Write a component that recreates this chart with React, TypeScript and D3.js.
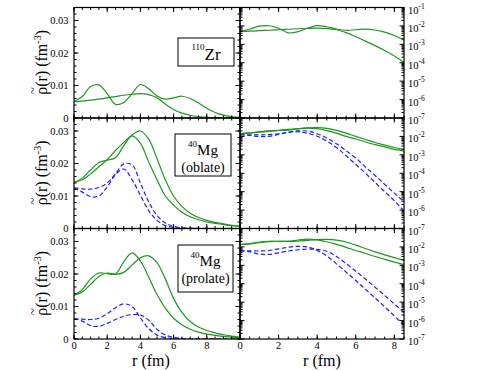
import React from 'react'
import * as d3 from 'd3'

// radial grid (fm), shared by every curve
const R = [0, 0.5, 1, 1.5, 2, 2.5, 3, 3.5, 4, 4.5, 5, 5.5, 6, 6.5, 7, 7.5, 8, 8.5, 9, 9.5, 10]

// 110Zr
const zrA = [0.0050, 0.0066, 0.0097, 0.0102, 0.0075, 0.0042, 0.0048, 0.0075, 0.0103, 0.0090, 0.0068, 0.0058, 0.0062, 0.0067, 0.0060, 0.0046, 0.0030, 0.0017, 0.0009, 0.00045, 0.0002]
const zrB = [0.0050, 0.0052, 0.0055, 0.0058, 0.0062, 0.0066, 0.0070, 0.0073, 0.0075, 0.0072, 0.0062, 0.0043, 0.0026, 0.0015, 0.00085, 0.00046, 0.00023, 0.000105, 0.00005, 0.000023, 0.00001]

// 40Mg oblate
const obGreenA = [0.0142, 0.0155, 0.0180, 0.0203, 0.0210, 0.0218, 0.0255, 0.0285, 0.0262, 0.0205, 0.0150, 0.0100, 0.0072, 0.0050, 0.0036, 0.0027, 0.0020, 0.0016, 0.0012, 0.0009, 0.0007]
const obGreenB = [0.0142, 0.0150, 0.0168, 0.0190, 0.0212, 0.0240, 0.0265, 0.0288, 0.0300, 0.0275, 0.0215, 0.0150, 0.0100, 0.0068, 0.0047, 0.0034, 0.0025, 0.0019, 0.0014, 0.0010, 0.0007]
const obBlueA = [0.0125, 0.0122, 0.0121, 0.0126, 0.0140, 0.0168, 0.0199, 0.0196, 0.0140, 0.0082, 0.0040, 0.0017, 0.00066, 0.00022, 0.000076, 0.000025, 0.0000083, 0.0000028, 0.0000009, 0.0000003, 0.0000001]
const obBlueB = [0.0125, 0.0112, 0.0098, 0.0100, 0.0128, 0.0166, 0.0183, 0.0150, 0.0102, 0.0055, 0.0025, 0.00089, 0.00030, 0.00010, 0.000032, 0.000010, 0.0000032, 0.00000089, 0.00000025, 0.00000008, 0.000000025]

// 40Mg prolate
const prGreenA = [0.0135, 0.0152, 0.0185, 0.0203, 0.0201, 0.0200, 0.0238, 0.0265, 0.0240, 0.0190, 0.0137, 0.0095, 0.0064, 0.0044, 0.0030, 0.0021, 0.0015, 0.0011, 0.0008, 0.00055, 0.0004]
const prGreenB = [0.0135, 0.0145, 0.0168, 0.0192, 0.0203, 0.0199, 0.0205, 0.0228, 0.0250, 0.0256, 0.0235, 0.0185, 0.0125, 0.0082, 0.0054, 0.0037, 0.0026, 0.0019, 0.0013, 0.0009, 0.0006]
const prBlueA = [0.0063, 0.0061, 0.0060, 0.0064, 0.0078, 0.0096, 0.0108, 0.0100, 0.0065, 0.0032, 0.0012, 0.00043, 0.00015, 0.00005, 0.000017, 0.0000056, 0.0000018, 0.00000055, 0.00000017, 0.00000005, 0.000000015]
const prBlueB = [0.0063, 0.0055, 0.0041, 0.0039, 0.0048, 0.0060, 0.0070, 0.0075, 0.0074, 0.0058, 0.0030, 0.00125, 0.00048, 0.00018, 0.000065, 0.000023, 0.000008, 0.0000028, 0.000001, 0.00000033, 0.00000011]

const linTicks = [0, 0.01, 0.02, 0.03]
const xTickLabels = [0, 2, 4, 6, 8]
const logExps = [-1, -2, -3, -4, -5, -6, -7]

const panels = [
  { nuc: '110', el: 'Zr', shape: '', green: [zrA, zrB], blue: [] as number[][] },
  { nuc: '40', el: 'Mg', shape: '(oblate)', green: [obGreenA, obGreenB], blue: [obBlueA, obBlueB] },
  { nuc: '40', el: 'Mg', shape: '(prolate)', green: [prGreenA, prGreenB], blue: [prBlueA, prBlueB] },
]

const W = 479, H = 370
const LX0 = 74, MX = 240, RX1 = 404
const TOP = 7.5, PH = 110.5
const GREEN = '#1f961f'
const BLUE = '#2020ff'
const FONT = 'Liberation Serif'

const xL = d3.scaleLinear().domain([0, 10]).range([LX0, MX])
const xR = d3.scaleLinear().domain([0, 8.5]).range([MX, RX1])

function tickLines(x0: number, x1: number, y0: number, y1: number, xs: number[], ys: number[], len: number, key: string) {
  const out: any[] = []
  xs.forEach((v, i) => {
    out.push(<line key={key + 'xb' + i} x1={v} x2={v} y1={y1} y2={y1 - len} />)
    out.push(<line key={key + 'xt' + i} x1={v} x2={v} y1={y0} y2={y0 + len} />)
  })
  ys.forEach((v, i) => {
    out.push(<line key={key + 'yl' + i} x1={x0} x2={x0 + len} y1={v} y2={v} />)
    out.push(<line key={key + 'yr' + i} x1={x1} x2={x1 - len} y1={v} y2={v} />)
  })
  return out
}

export default function App() {
  const xMajL = d3.range(0, 10.01, 2).map(xL)
  const xMinL = d3.range(0, 10.01, 0.5).map(xL)
  const xMajR = d3.range(0, 8.51, 2).map(xR)
  const xMinR = d3.range(0, 8.51, 0.5).map(xR)

  return (
    <svg width={W} height={H} style={{ position: 'absolute', left: 0, top: 0, background: '#fff' }}>
      {panels.map((p, i) => {
        const y0 = TOP + i * PH
        const y1 = y0 + PH
        const yLin = d3.scaleLinear().domain([0, 0.034]).range([y1, y0])
        const yLog = d3.scaleLog().domain([1e-7, 1e-1]).range([y1, y0])
        const lineL = d3.line<number>().x((_, j) => xL(R[j])).y(d => yLin(d)).curve(d3.curveCatmullRom.alpha(0.5))
        const lineR = d3.line<number>().x((_, j) => xR(R[j])).y(d => yLog(d)).curve(d3.curveCatmullRom.alpha(0.5))
        const yMajL = linTicks.map(yLin)
        const yMinL = d3.range(0, 0.0341, 0.002).map(yLin)
        const yMajR = logExps.map(e => yLog(Math.pow(10, e)))
        const yMinR: number[] = []
        for (let e = -7; e < -1; e++) for (let k = 2; k < 10; k++) yMinR.push(yLog(k * Math.pow(10, e)))
        const cy = (y0 + y1) / 2
        const boxes = [
          { x: 178, y: 38, w: 56, h: 28 },
          { x: 175, y: 134, w: 56, h: 42 },
          { x: 178, y: 245, w: 55, h: 47 },
        ]
        const b = boxes[i]
        const bc = b.x + b.w / 2
        return (
          <g key={i}>
            <defs>
              <clipPath id={'cl' + i}><rect x={LX0} y={y0} width={MX - LX0} height={PH} /></clipPath>
              <clipPath id={'cr' + i}><rect x={MX} y={y0} width={RX1 - MX} height={PH} /></clipPath>
            </defs>
            <g clipPath={`url(#cl${i})`} fill="none" strokeWidth={1.2}>
              {p.green.map((s, k) => <path key={'g' + k} d={lineL(s) || ''} stroke={GREEN} />)}
              {p.blue.map((s, k) => <path key={'b' + k} d={lineL(s) || ''} stroke={BLUE} strokeDasharray="4.5,2.5" />)}
            </g>
            <g clipPath={`url(#cr${i})`} fill="none" strokeWidth={1.2}>
              {p.green.map((s, k) => <path key={'g' + k} d={lineR(s) || ''} stroke={GREEN} />)}
              {p.blue.map((s, k) => <path key={'b' + k} d={lineR(s) || ''} stroke={BLUE} strokeDasharray="4.5,2.5" />)}
            </g>
            <g stroke="#000" strokeWidth={1}>
              {tickLines(LX0, MX, y0, y1, xMajL, yMajL, 4.5, 'Lm')}
              {tickLines(LX0, MX, y0, y1, xMinL, yMinL, 2.5, 'Ln')}
              {tickLines(MX, RX1, y0, y1, xMajR, yMajR, 4.5, 'Rm')}
              {tickLines(MX, RX1, y0, y1, xMinR, yMinR, 2.5, 'Rn')}
            </g>
            <rect x={LX0} y={y0} width={MX - LX0} height={PH} fill="none" stroke="#000" strokeWidth={1.2} />
            <rect x={MX} y={y0} width={RX1 - MX} height={PH} fill="none" stroke="#000" strokeWidth={1.2} />
            {linTicks.map((v, k) => (
              <text key={'lt' + k} x={68.5} y={yLin(v) + 3.5} fontSize={10.5} fontFamily={FONT} textAnchor="end">
                {v === 0 ? '0' : d3.format('.2f')(v)}
              </text>
            ))}
            {logExps.filter(e => i === 0 || e !== -1).map(e => (
              <text key={'rt' + e} x={408} y={yLog(Math.pow(10, e)) + 6} fontSize={10.5} fontFamily={FONT}>
                10<tspan fontSize={7.5} dy={-5}>{e}</tspan>
              </text>
            ))}
            <g transform={`translate(47,${cy}) rotate(-90)`}>
              <text x={-32} y={0} fontSize={16} fontFamily={FONT}>
                {'\u03C1(r) (fm'}<tspan fontSize={10} dy={-6}>-3</tspan><tspan dy={6}>)</tspan>
              </text>
              <text x={-28} y={-10} fontSize={13} fontFamily={FONT} textAnchor="middle">~</text>
            </g>
            <rect x={b.x} y={b.y} width={b.w} height={b.h} fill="#fff" stroke="#000" strokeWidth={1} />
            {i === 0 ? (
              <text x={bc} y={60} textAnchor="middle" fontSize={17} fontFamily={FONT}>
                <tspan fontSize={9} dy={-10}>{p.nuc}</tspan><tspan dy={10}>{p.el}</tspan>
              </text>
            ) : (
              <g>
                <text x={bc} y={b.y + 21} textAnchor="middle" fontSize={15} fontFamily={FONT}>
                  <tspan fontSize={9} dy={-8}>{p.nuc}</tspan><tspan dy={8}>{p.el}</tspan>
                </text>
                <text x={bc} y={b.y + 38} textAnchor="middle" fontSize={14} fontFamily={FONT}>{p.shape}</text>
              </g>
            )}
          </g>
        )
      })}
      {xTickLabels.map(v => (
        <text key={'xl' + v} x={xL(v)} y={349} fontSize={10.5} fontFamily={FONT} textAnchor="middle">{v}</text>
      ))}
      {xTickLabels.map(v => (
        <text key={'xr' + v} x={xR(v)} y={349} fontSize={10.5} fontFamily={FONT} textAnchor="middle">{v}</text>
      ))}
      <text x={151} y={365.5} fontSize={16} fontFamily={FONT} textAnchor="middle">r (fm)</text>
      <text x={322} y={365.5} fontSize={16} fontFamily={FONT} textAnchor="middle">r (fm)</text>
    </svg>
  )
}
